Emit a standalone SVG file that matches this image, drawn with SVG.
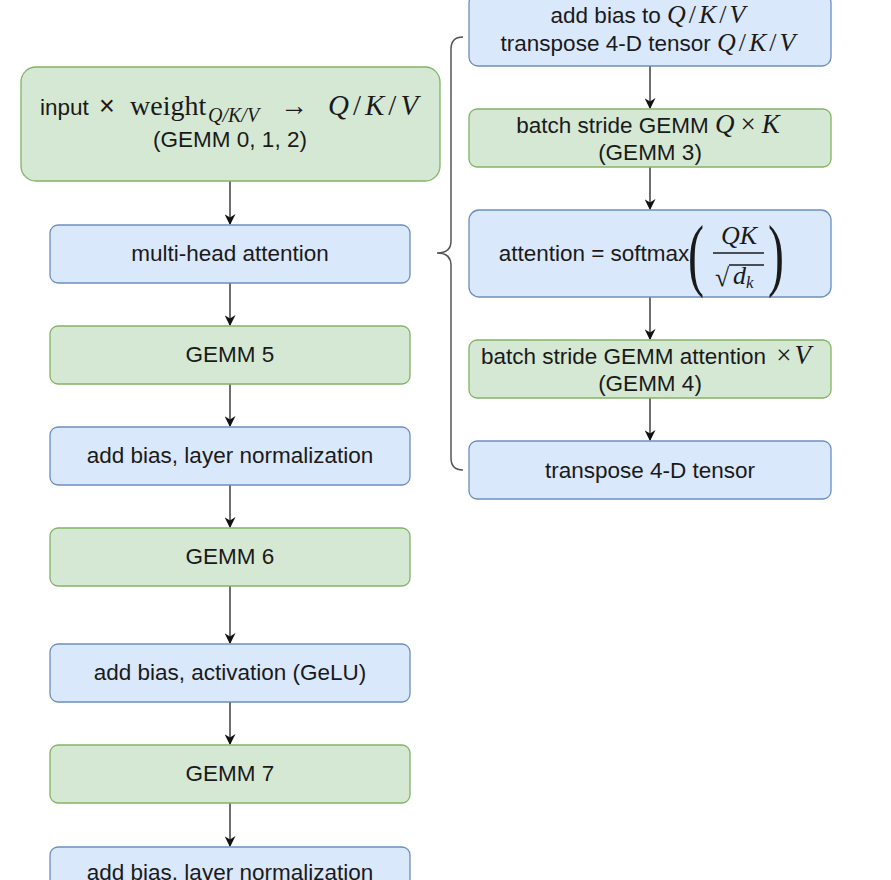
<svg xmlns="http://www.w3.org/2000/svg" width="891" height="880" viewBox="0 0 891 880">
<style>
.g{fill:#d5e8d4;stroke:#82b366;stroke-width:1.3}
.b{fill:#dae8fc;stroke:#6c8ebf;stroke-width:1.3}
.t{font-family:"Liberation Sans",Arial,sans-serif;font-size:22.5px;fill:#1a1a1a;text-anchor:middle}
.s{text-anchor:start}
.m{font-family:"Liberation Serif","Times New Roman",serif;font-style:italic}
.r{font-family:"Liberation Serif","Times New Roman",serif}
.c{stroke:#222;stroke-width:1.3;fill:none}
.br{stroke:#555;stroke-width:1.5;fill:none}
</style>
<defs>
<marker id="a" viewBox="0 0 10 10" refX="9" refY="5" markerWidth="11" markerHeight="11" markerUnits="userSpaceOnUse" orient="auto">
<path d="M0,0 L10,5 L0,10 L3,5 z" fill="#111"/>
</marker>
</defs>
<rect width="891" height="880" fill="#fff"/>
<g id="connectors">
<line class="c" x1="230" y1="181" x2="230" y2="224" marker-end="url(#a)"/>
<line class="c" x1="230" y1="283" x2="230" y2="325" marker-end="url(#a)"/>
<line class="c" x1="230" y1="384" x2="230" y2="426" marker-end="url(#a)"/>
<line class="c" x1="230" y1="485" x2="230" y2="527" marker-end="url(#a)"/>
<line class="c" x1="230" y1="586" x2="230" y2="643" marker-end="url(#a)"/>
<line class="c" x1="230" y1="702" x2="230" y2="744" marker-end="url(#a)"/>
<line class="c" x1="230" y1="803" x2="230" y2="846" marker-end="url(#a)"/>
<line class="c" x1="650" y1="66" x2="650" y2="108" marker-end="url(#a)"/>
<line class="c" x1="650" y1="167" x2="650" y2="209" marker-end="url(#a)"/>
<line class="c" x1="650" y1="297" x2="650" y2="339" marker-end="url(#a)"/>
<line class="c" x1="650" y1="398" x2="650" y2="440" marker-end="url(#a)"/>
<path class="br" d="M463,37 Q451,37 451,49 L451,241 Q451,253 437,253 Q451,253 451,265 L451,458 Q451,470 463,470"/>
</g>
<g id="n0">
<rect class="g" x="21" y="67" width="419" height="114" rx="15"/>
<text class="t s" y="115"><tspan x="40">input</tspan><tspan x="99" font-size="27">×</tspan><tspan class="r" x="130" font-size="28">weight</tspan><tspan class="m" x="208" font-size="20" dy="7">Q/K/V</tspan><tspan class="r" x="280" dy="-7" font-size="28">→</tspan><tspan class="m" x="328" font-size="29">Q</tspan><tspan class="r" font-size="29" dx="4">/</tspan><tspan class="m" font-size="29" dx="4">K</tspan><tspan class="r" font-size="29" dx="4">/</tspan><tspan class="m" font-size="29" dx="4">V</tspan></text>
<text class="t" x="230" y="147">(GEMM 0, 1, 2)</text>
</g>
<g id="n1">
<rect class="b" x="50" y="225" width="360" height="58" rx="8"/>
<text class="t" x="230" y="261">multi-head attention</text>
</g>
<g id="n2">
<rect class="g" x="50" y="326" width="360" height="58" rx="8"/>
<text class="t" x="230" y="362">GEMM 5</text>
</g>
<g id="n3">
<rect class="b" x="50" y="427" width="360" height="58" rx="8"/>
<text class="t" x="230" y="463">add bias, layer normalization</text>
</g>
<g id="n4">
<rect class="g" x="50" y="528" width="360" height="58" rx="8"/>
<text class="t" x="230" y="564">GEMM 6</text>
</g>
<g id="n5">
<rect class="b" x="50" y="644" width="360" height="58" rx="8"/>
<text class="t" x="230" y="680">add bias, activation (GeLU)</text>
</g>
<g id="n6">
<rect class="g" x="50" y="745" width="360" height="58" rx="8"/>
<text class="t" x="230" y="781">GEMM 7</text>
</g>
<g id="n7">
<rect class="b" x="50" y="847" width="360" height="58" rx="8"/>
<text class="t" x="230" y="880">add bias, layer normalization</text>
</g>
<g id="r1">
<rect class="b" x="469" y="-6" width="362" height="72" rx="9"/>
<text class="t" x="648" y="23"><tspan>add bias to </tspan><tspan class="m" font-size="26">Q</tspan><tspan class="r" font-size="26" dx="3">/</tspan><tspan class="m" font-size="26" dx="3">K</tspan><tspan class="r" font-size="26" dx="3">/</tspan><tspan class="m" font-size="26" dx="3">V</tspan></text>
<text class="t" x="648" y="51"><tspan>transpose 4-D tensor </tspan><tspan class="m" font-size="26">Q</tspan><tspan class="r" font-size="26" dx="3">/</tspan><tspan class="m" font-size="26" dx="3">K</tspan><tspan class="r" font-size="26" dx="3">/</tspan><tspan class="m" font-size="26" dx="3">V</tspan></text>
</g>
<g id="r2">
<rect class="g" x="469" y="109" width="362" height="58" rx="8"/>
<text class="t" x="648" y="133"><tspan>batch stride GEMM </tspan><tspan class="m" font-size="27">Q</tspan><tspan class="r" font-size="27" dx="6">×</tspan><tspan class="m" font-size="27" dx="6">K</tspan></text>
<text class="t" x="650" y="160">(GEMM 3)</text>
</g>
<g id="r3">
<rect class="b" x="469" y="210" width="362" height="87" rx="10"/>
<text class="t" x="594" y="261">attention = softmax</text>
<text class="r" x="0" y="0" font-size="80" transform="translate(688,281) scale(0.6,1)" fill="#1a1a1a">(</text>
<text class="m" x="739" y="244" font-size="26" text-anchor="middle" fill="#1a1a1a">QK</text>
<line x1="713" y1="253" x2="764" y2="253" stroke="#1a1a1a" stroke-width="1.4"/>
<text class="r" x="715" y="286" font-size="26" fill="#1a1a1a">√</text>
<line x1="729" y1="265" x2="764" y2="265" stroke="#1a1a1a" stroke-width="1.4"/>
<text class="m" x="733" y="284" font-size="26" fill="#1a1a1a">d<tspan font-size="17" dy="4">k</tspan></text>
<text class="r" x="0" y="0" font-size="80" transform="translate(768,281) scale(0.6,1)" fill="#1a1a1a">)</text>
</g>
<g id="r4">
<rect class="g" x="469" y="340" width="362" height="58" rx="8"/>
<text class="t" x="646" y="364"><tspan>batch stride GEMM attention </tspan><tspan class="r" font-size="27" dx="4">×</tspan><tspan class="m" font-size="27" dx="3">V</tspan></text>
<text class="t" x="650" y="391">(GEMM 4)</text>
</g>
<g id="r5">
<rect class="b" x="469" y="441" width="362" height="58" rx="8"/>
<text class="t" x="650" y="478">transpose 4-D tensor</text>
</g>
</svg>
